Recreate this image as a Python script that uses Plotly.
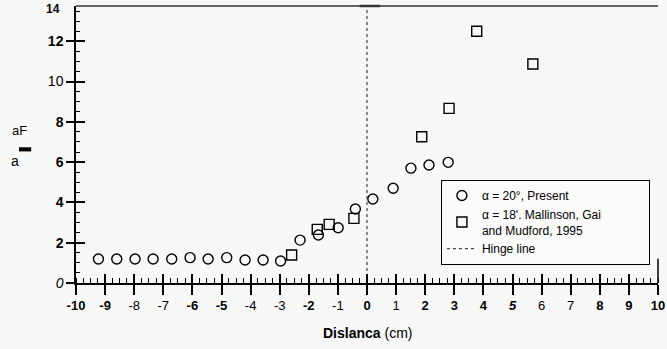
import plotly.graph_objects as go

# Data
circle_x = [-9.23, -8.60, -7.97, -7.35, -6.71, -6.08, -5.46, -4.82, -4.19, -3.57, -2.97,
            -2.30, -1.67, -0.99, -0.40, 0.20, 0.90, 1.51, 2.13, 2.79]
circle_y = [1.19, 1.19, 1.19, 1.19, 1.19, 1.26, 1.19, 1.26, 1.14, 1.14, 1.09,
            2.13, 2.38, 2.74, 3.67, 4.17, 4.70, 5.70, 5.86, 5.99]
square_x = [-2.59, -1.71, -1.30, -0.45, 1.88, 2.82, 3.77, 5.70]
square_y = [1.39, 2.66, 2.91, 3.21, 7.26, 8.67, 12.50, 10.87]
hinge_x = [0, 0]
hinge_y = [0, 14]

x_ticks = list(range(-10, 11))
x_ticktext = ["<b>-10</b>", "<b>-9</b>", "-8", "-7", "<b>-6</b>", "<b>-5</b>", "-4", "-3",
              "<b>-2</b>", "-1", "<b>0</b>", "1", "<b>2</b>", "<b>3</b>", "<b>4</b>",
              "<b><i>5</i></b>", "6", "7", "<b>8</b>", "<b>9</b>", "<b>10</b>"]
y_ticks = [0, 2, 4, 6, 8, 10, 12]
y_ticktext = ["<i>0</i>", "<b>2</b>", "<b>4</b>", "<b>6</b>", "<b>8</b>", "10", "<b>12</b>"]

FONT = "Arial, Liberation Sans, sans-serif"
BG = "#f8f8f8"
PAD = '<span style="color:rgba(0,0,0,0)">mmmmi</span>'

fig = go.Figure()
fig.add_trace(go.Scatter(
    x=circle_x, y=circle_y, mode="markers", name="α = 20°, Present",
    marker=dict(symbol="circle-open", size=10, color="black", line=dict(width=1.4)),
))
fig.add_trace(go.Scatter(
    x=square_x, y=square_y, mode="markers",
    name="α = 18'. Mallinson, Gai" + PAD + "<br>and Mudford, 1995",
    marker=dict(symbol="square-open", size=10, color="black", line=dict(width=1.4)),
))
fig.add_trace(go.Scatter(
    x=hinge_x, y=hinge_y, mode="lines", name="Hinge line",
    line=dict(color="#444444", width=1.2, dash="dot"),
    xaxis="x2", yaxis="y2",
))

yr = [0, 13.75]
fig.update_layout(
    width=667, height=349,
    margin=dict(l=76, r=9, t=6, b=66, autoexpand=False),
    paper_bgcolor=BG, plot_bgcolor=BG,
    font=dict(family=FONT, size=12, color="black"),
    showlegend=True,
    legend=dict(
        x=0.627, y=0.372, xanchor="left", yanchor="top",
        bgcolor="#fbfbfb", bordercolor="black", borderwidth=1,
        font=dict(family=FONT, size=12, color="black"),
        tracegroupgap=1, itemwidth=30,
    ),
    xaxis=dict(
        range=[-10, 10], tickvals=x_ticks, ticktext=x_ticktext,
        showgrid=False, zeroline=False, showline=True, linecolor="black", linewidth=1.5,
        ticks="outside", ticklen=10, tickwidth=1.5, tickcolor="black",
        tickfont=dict(family=FONT, size=13),
        minor=dict(dtick=0.25, ticks="inside", ticklen=5, tickwidth=1, tickcolor="black"),
    ),
    yaxis=dict(
        range=yr, tickvals=y_ticks, ticktext=y_ticktext,
        showgrid=False, zeroline=False, showline=True, linecolor="black", linewidth=1.5,
        ticks="outside", ticklen=8, tickwidth=1.5, tickcolor="black",
        tickfont=dict(family=FONT, size=14),
        minor=dict(dtick=0.5, ticks="inside", ticklen=4, tickwidth=1, tickcolor="black"),
    ),
    xaxis2=dict(
        range=[-10, 10], overlaying="x", anchor="y2", tickvals=x_ticks,
        showticklabels=False, showgrid=False, zeroline=False, showline=False,
        ticks="inside", ticklen=9, tickwidth=1.5, tickcolor="black",
    ),
    yaxis2=dict(
        range=yr, overlaying="y", anchor="x2", tickvals=y_ticks,
        showticklabels=False, showgrid=False, zeroline=False, showline=False,
        ticks="inside", ticklen=9, tickwidth=1.5, tickcolor="black",
    ),
    shapes=[
        dict(type="line", xref="paper", yref="paper", x0=0, x1=1, y0=1, y1=1,
             line=dict(color="#333333", width=1.5)),
        dict(type="line", xref="x", yref="paper", x0=-0.25, x1=0.45, y0=1, y1=1,
             line=dict(color="#333333", width=2.5)),
        dict(type="line", xref="paper", yref="y", x0=1, x1=1, y0=0, y1=1.2,
             line=dict(color="black", width=1.5)),
        dict(type="rect", xref="paper", yref="paper", x0=-0.098, x1=-0.077, y0=0.475, y1=0.49,
             fillcolor="black", line=dict(width=0)),
    ],
    annotations=[
        dict(text="<b>14</b>", xref="paper", yref="paper", x=0, y=1.0217, xanchor="right",
             yanchor="top", xshift=-14, showarrow=False, font=dict(family=FONT, size=12)),
        dict(text="<b>Dislanca</b> (cm)", xref="x", yref="paper", x=0, y=-0.18,
             xanchor="center", yanchor="middle", showarrow=False,
             font=dict(family=FONT, size=14)),
        dict(text="aF", xref="paper", yref="paper", x=-0.113, y=0.55,
             xanchor="left", yanchor="middle", showarrow=False,
             font=dict(family=FONT, size=13)),
        dict(text="a", xref="paper", yref="paper", x=-0.115, y=0.441,
             xanchor="left", yanchor="middle", showarrow=False,
             font=dict(family=FONT, size=14)),
    ],
)

fig.write_html("out.html")
